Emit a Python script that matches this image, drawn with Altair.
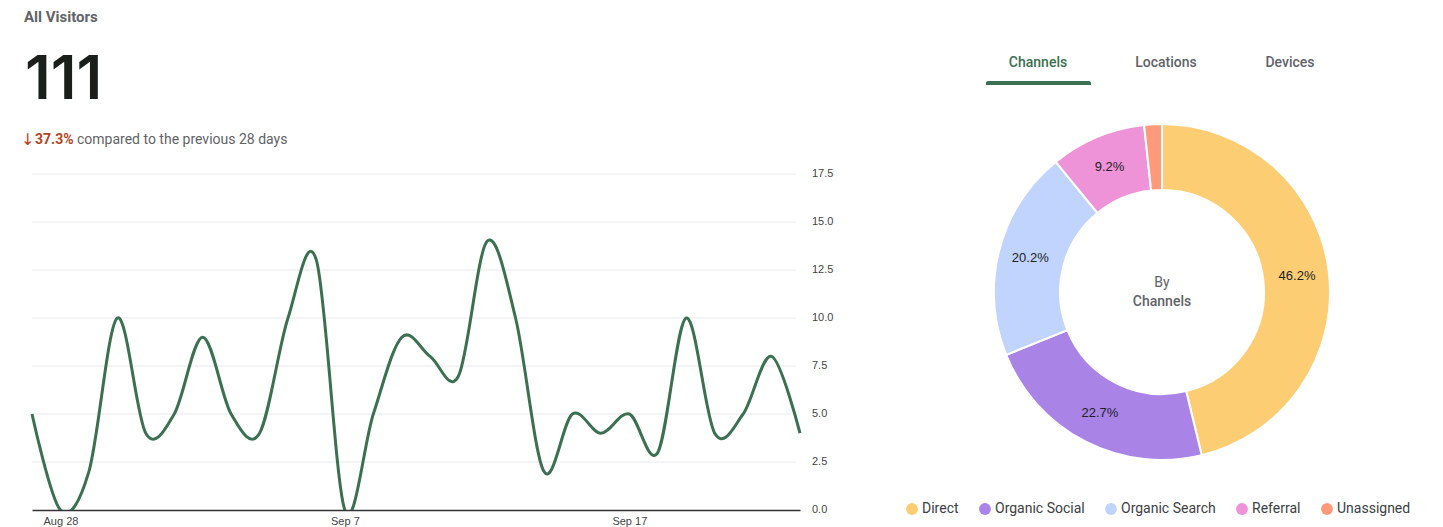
import altair as alt
import pandas as pd

# ---- data ----
days = ["Aug 27", "Aug 28", "Aug 29", "Aug 30", "Aug 31", "Sep 1", "Sep 2", "Sep 3",
        "Sep 4", "Sep 5", "Sep 6", "Sep 7", "Sep 8", "Sep 9", "Sep 10", "Sep 11",
        "Sep 12", "Sep 13", "Sep 14", "Sep 15", "Sep 16", "Sep 17", "Sep 18", "Sep 19",
        "Sep 20", "Sep 21", "Sep 22", "Sep 23"]
visitors = [5, 0, 2, 10, 4, 5, 9, 5, 4, 10, 13, 0, 5, 9, 8, 7, 14, 10, 2, 5, 4, 5, 3, 10, 4, 5, 8, 4]
x_tick_labels = ["Aug 28", "Sep 7", "Sep 17"]
y_ticks = [0, 2.5, 5, 7.5, 10, 12.5, 15, 17.5]

channels = ["Direct", "Organic Social", "Organic Search", "Referral", "Unassigned"]
shares = [46.2, 22.7, 20.2, 9.2, 1.7]
share_labels = ["46.2%", "22.7%", "20.2%", "9.2%", ""]
channel_colors = ["#fdcd74", "#a983e6", "#c1d4fd", "#ef93d9", "#fe9a7a"]

tabs = ["Channels", "Locations", "Devices"]

line_df = pd.DataFrame({"day": days, "visitors": visitors})
grid_df = pd.DataFrame({"tick": y_ticks[1:]})
ytick_df = pd.DataFrame({"tick": y_ticks})
pie_df = pd.DataFrame({"channel": channels, "share": shares, "label": share_labels,
                       "idx": list(range(len(channels)))})

GREEN = "#3b7050"
GRAY = "#5f6368"
SANS = "Roboto"
AXF = "Liberation Sans"

W, H = 1427, 502
X_RANGE = [24, 792]
Y_RANGE = [502, 166]
y_scale = alt.Scale(domain=[0, 17.5], range=Y_RANGE, nice=False, zero=True)
x_scale = alt.Scale(type="point", range=X_RANGE, padding=0)

grid = alt.Chart(grid_df).mark_rule(color="#e9e9ef", strokeWidth=1).encode(
    x=alt.value(24), x2=alt.value(788),
    y=alt.Y("tick:Q", scale=y_scale, axis=None),
)

ylabels = alt.Chart(ytick_df).mark_text(
    align="left", baseline="middle", font=AXF, fontSize=11, color="#444444"
).encode(
    y=alt.Y("tick:Q", scale=y_scale, axis=None),
    x=alt.value(804),
    text=alt.Text("tick:Q", format=".1f"),
)

line = alt.Chart(line_df).mark_line(
    interpolate="cardinal", color=GREEN, strokeWidth=3, clip=True
).encode(
    x=alt.X("day:N", sort=None, scale=x_scale,
            axis=alt.Axis(values=x_tick_labels, title=None, ticks=False, tickSize=0,
                          grid=False, domainColor="#333333", domainWidth=1.5,
                          labelFont=AXF, labelFontSize=11, labelColor="#444444",
                          labelPadding=5, labelAngle=0)),
    y=alt.Y("visitors:Q", scale=y_scale, axis=None),
)

CX, CY = 1154, 284
arcs = alt.Chart(pie_df).mark_arc(
    innerRadius=102, outerRadius=168, stroke="white", strokeWidth=2
).encode(
    theta=alt.Theta("share:Q", stack=True, scale=alt.Scale(domain=[0, 100])),
    order=alt.Order("idx:Q"),
    color=alt.Color("channel:N", sort=channels,
                    scale=alt.Scale(domain=channels, range=channel_colors),
                    legend=alt.Legend(orient="none", direction="horizontal", title=None,
                                      legendX=897, legendY=494, symbolType="circle",
                                      symbolSize=140, symbolStrokeWidth=0,
                                      labelFont=SANS, labelFontSize=14,
                                      labelColor="#3c4043", columnPadding=19,
                                      labelOffset=3, padding=0)),
    x=alt.value(CX), y=alt.value(CY),
)

slice_text = alt.Chart(pie_df).mark_text(
    radius=136, font=AXF, fontSize=13, color="#202124"
).encode(
    theta=alt.Theta("share:Q", stack=True, scale=alt.Scale(domain=[0, 100])),
    order=alt.Order("idx:Q"),
    text="label:N",
    x=alt.value(CX), y=alt.value(CY),
)

def label(text, x, y, size, color, weight="normal", font=SANS, align="left"):
    return alt.Chart(pd.DataFrame({"t": [text]})).mark_text(
        font=font, fontSize=size, color=color, fontWeight=weight, align=align,
        baseline="alphabetic"
    ).encode(text="t:N", x=alt.value(x), y=alt.value(y))

texts = [
    label("All Visitors", 16, 14, 15, GRAY, "bold"),
    label("111", 17, 91, 61, "#1b1f1c", 600, font="Inter"),
    label("\u2193", 13, 137, 16, "#c0401f", "normal", font="DejaVu Sans"),
    label("37.3%", 27, 136, 14, "#b3441e", "bold"),
    label("compared to the previous 28 days", 69, 136, 14, GRAY),
    label("By", CX, 279, 14, GRAY, align="center"),
    label("Channels", CX, 298, 14, GRAY, 500, align="center"),
    label(tabs[0], 1030, 59, 14, GREEN, 500, align="center"),
    label(tabs[1], 1158, 59, 14, GRAY, 500, align="center"),
    label(tabs[2], 1282, 59, 14, GRAY, 500, align="center"),
]

tab_bar = alt.Chart(pd.DataFrame({"t": [tabs[0]]})).mark_rect(
    color=GREEN, cornerRadiusTopLeft=3, cornerRadiusTopRight=3
).encode(x=alt.value(978), x2=alt.value(1083), y=alt.value(73), y2=alt.value(77))

chart = alt.layer(grid, ylabels, line, arcs, slice_text, tab_bar, *texts).resolve_scale(
    color="independent"
).properties(
    width=W, height=H, autosize="none",
    padding={"left": 0, "top": 0, "right": 0, "bottom": 17},
).configure_view(stroke=None)

chart.save("out.html", embed_options={"renderer": "svg", "actions": False})
